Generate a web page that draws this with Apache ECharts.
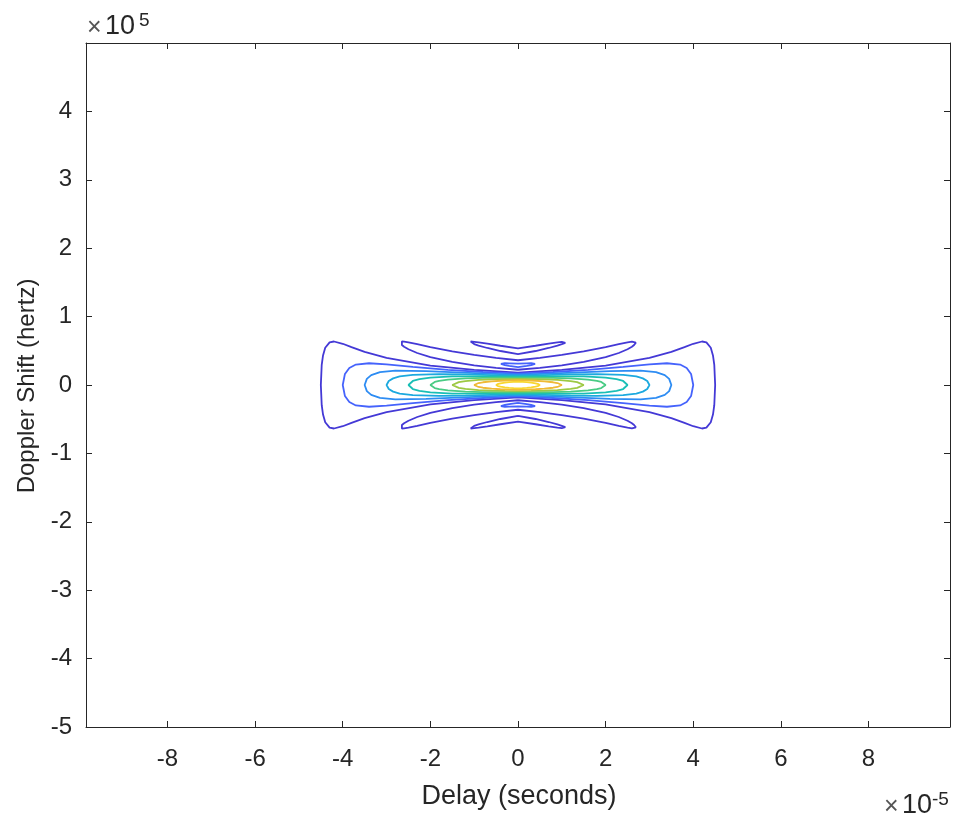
<!DOCTYPE html>
<html><head><meta charset="utf-8">
<script src="https://cdn.jsdelivr.net/npm/echarts@6/dist/echarts.min.js"></script>
<style>html,body{margin:0;padding:0;background:#fff}#c{width:956px;height:815px}</style>
</head><body><div id="c"></div>
<script>
// Axis ticks (delay in units of 1e-5 s, Doppler in units of 1e5 Hz)
const xTicks = [-8, -6, -4, -2, 0, 2, 4, 6, 8];
const yTicks = [-5, -4, -3, -2, -1, 0, 1, 2, 3, 4];
const xRange = [-9.86, 9.86];
const yRange = [-5, 5];

// Contour levels and their colours (parula)
const levels = [0.1, 0.2, 0.3, 0.4, 0.5, 0.6, 0.7, 0.8, 0.9];
const levelColors = ['#4439D6', '#4563FC', '#2D8CF3', '#1CA9DF', '#19BFB5', '#4ACB84', '#9DC943', '#EFBA36', '#F9D62D'];

// Main-lobe contours, one quadrant each: [delay, doppler]
const main01 = [[0,0.182],[1,0.222],[2,0.284],[3,0.395],[3.5,0.484],[3.8,0.554],[4.0,0.603],[4.2,0.636],[4.3,0.624],[4.4,0.544],[4.45,0.432],[4.48,0.296],[4.5,0]];
const main02 = [[0,0.165],[0.8,0.190],[1.6,0.222],[2.4,0.265],[3.0,0.302],[3.4,0.318],[3.7,0.299],[3.85,0.249],[3.95,0.162],[4.0,0]];
const main03 = [[0,0.150],[0.7,0.166],[1.4,0.185],[2.1,0.204],[2.8,0.211],[3.15,0.189],[3.35,0.144],[3.45,0.090],[3.5,0]];
const main04 = [[0,0.135],[0.6,0.145],[1.2,0.154],[1.8,0.159],[2.4,0.149],[2.7,0.125],[2.85,0.097],[2.95,0.058],[3.0,0]];
const main05 = [[0,0.121],[0.5,0.125],[1.0,0.127],[1.5,0.125],[2.0,0.109],[2.25,0.086],[2.4,0.059],[2.5,0]];
const main06 = [[0,0.106],[0.4,0.106],[0.8,0.104],[1.2,0.097],[1.6,0.080],[1.8,0.061],[1.9,0.045],[2.0,0]];
const main07 = [[0,0.090],[0.3,0.087],[0.6,0.083],[0.9,0.074],[1.2,0.058],[1.35,0.043],[1.5,0]];
const main08 = [[0,0.072],[0.2,0.068],[0.4,0.062],[0.6,0.054],[0.8,0.040],[0.9,0.029],[1.0,0]];
const main09 = [[0,0.050],[0.1,0.046],[0.2,0.041],[0.3,0.034],[0.4,0.025],[0.45,0.017],[0.5,0]];

// Sidelobe contours (half loops for delay >= 0, Doppler > 0)
const side1_01 = [[0,0.223],[0.5,0.251],[1,0.287],[1.5,0.337],[2,0.407],[2.3,0.468],[2.5,0.523],[2.6,0.559],[2.65,0.584],[2.69,0.619],[2.65,0.636],[2.6,0.634],[2.5,0.624],[2.3,0.597],[2,0.554],[1.5,0.491],[1,0.439],[0.5,0.397],[0,0.362]];
const side2_01 = [[0,0.450],[0.4,0.497],[0.7,0.541],[0.9,0.576],[1.0,0.598],[1.08,0.617],[1.1,0.631],[1.08,0.637],[1.0,0.632],[0.9,0.624],[0.7,0.605],[0.4,0.574],[0,0.536]];
const side1_02 = [[0,0.262],[0.2,0.280],[0.3,0.292],[0.39,0.310],[0.3,0.318],[0.2,0.317],[0,0.312]];

const mainContours = [main01, main02, main03, main04, main05, main06, main07, main08, main09];
const sideContours = [
  { level: 0.1, half: side1_01 },
  { level: 0.1, half: side2_01 },
  { level: 0.2, half: side1_02 }
];

function fullLoop(q) {
  const pts = [];
  for (let i = 0; i < q.length; i++) pts.push([q[i][0], q[i][1]]);
  for (let i = q.length - 2; i >= 0; i--) pts.push([q[i][0], -q[i][1]]);
  for (let i = 1; i < q.length; i++) pts.push([-q[i][0], -q[i][1]]);
  for (let i = q.length - 2; i >= 0; i--) pts.push([-q[i][0], q[i][1]]);
  return pts;
}
function sideLoop(h, sign) {
  const pts = [];
  for (let i = 0; i < h.length; i++) pts.push([h[i][0], sign * h[i][1]]);
  for (let i = h.length - 2; i >= 0; i--) pts.push([-h[i][0], sign * h[i][1]]);
  return pts;
}
function colorOf(level) { return levelColors[levels.indexOf(level)]; }

const series = [];
function addLine(pts, color, z) {
  series.push({
    type: 'line', data: pts, showSymbol: false, symbol: 'none', silent: true,
    lineStyle: { color: color, width: 1.8 }, z: z, animation: false
  });
}
sideContours.forEach(s => {
  addLine(sideLoop(s.half, 1), colorOf(s.level), 2);
  addLine(sideLoop(s.half, -1), colorOf(s.level), 2);
});
mainContours.forEach((q, i) => addLine(fullLoop(q), levelColors[i], 3 + i));

const axisCol = '#262626';
const fontFam = '"Liberation Sans", Arial, sans-serif';
function axisX(pos, labels) {
  return { type: 'value', min: xRange[0], max: xRange[1], position: pos,
    axisLine: { show: true, onZero: false, lineStyle: { color: axisCol, width: 1 } },
    axisTick: { show: true, inside: true, length: 6, customValues: xTicks, lineStyle: { color: axisCol } },
    axisLabel: labels ? { show: true, customValues: xTicks, color: axisCol, fontSize: 24, fontFamily: fontFam, margin: 20 } : { show: false },
    splitLine: { show: false } };
}
function axisY(pos, labels) {
  return { type: 'value', min: yRange[0], max: yRange[1], interval: 1, position: pos,
    axisLine: { show: true, onZero: false, lineStyle: { color: axisCol, width: 1 } },
    axisTick: { show: true, inside: true, length: 6, lineStyle: { color: axisCol } },
    axisLabel: labels ? { show: true, color: axisCol, fontSize: 24, fontFamily: fontFam, margin: 14,
      formatter: v => (yTicks.indexOf(v) >= 0 ? String(v) : '') } : { show: false },
    splitLine: { show: false } };
}
const chart = echarts.init(document.getElementById('c'), null, { renderer: 'canvas' });
chart.setOption({
  animation: false,
  backgroundColor: '#fff',
  grid: { left: 86, right: 6, top: 43, bottom: 88 },
  xAxis: [axisX('bottom', true), axisX('top', false)],
  yAxis: [axisY('left', true), axisY('right', false)],
  graphic: [
    { type: 'text', x: 519, y: 797, style: { text: 'Delay (seconds)', fill: axisCol, font: '27px ' + fontFam, align: 'center', verticalAlign: 'middle' } },
    { type: 'text', x: 27, y: 386, rotation: Math.PI / 2,
      style: { text: 'Doppler Shift (hertz)', fill: axisCol, font: '24px ' + fontFam, align: 'center', verticalAlign: 'middle' } },
    { type: 'text', x: 87, y: 28, style: { text: '×', fill: '#555', font: '25px ' + fontFam, verticalAlign: 'middle' } },
    { type: 'text', x: 105, y: 27, style: { text: '10', fill: axisCol, font: '27px ' + fontFam, verticalAlign: 'middle' } },
    { type: 'text', x: 139, y: 21, style: { text: '5', fill: axisCol, font: '19px ' + fontFam, verticalAlign: 'middle' } },
    { type: 'text', x: 884, y: 807, style: { text: '×', fill: '#555', font: '25px ' + fontFam, verticalAlign: 'middle' } },
    { type: 'text', x: 902, y: 806, style: { text: '10', fill: axisCol, font: '27px ' + fontFam, verticalAlign: 'middle' } },
    { type: 'text', x: 932, y: 800, style: { text: '-5', fill: axisCol, font: '19px ' + fontFam, verticalAlign: 'middle' } }
  ],
  series: series
});
</script></body></html>
